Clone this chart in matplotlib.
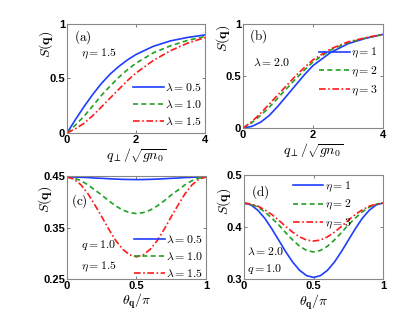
#!/usr/bin/env python3
"""Static structure factor S(q): four panels (a)-(d)."""

import matplotlib
matplotlib.use("Agg")
import matplotlib.pyplot as plt

plt.rcParams["mathtext.fontset"] = "cm"

# panels (a), (b): S(q) against q_perp / sqrt(g n0)
q_perp = [0, 0.25, 0.5, 0.75, 1.0, 1.25, 1.5, 1.75, 2.0, 2.5, 3.0, 3.5, 4.0]

a_labels = [r"$\lambda=0.5$", r"$\lambda=1.0$", r"$\lambda=1.5$"]
a_lam05 = [0, 0.125, 0.245, 0.355, 0.455, 0.54, 0.61, 0.67, 0.72, 0.795, 0.845, 0.877, 0.90]
a_lam10 = [0, 0.075, 0.155, 0.25, 0.345, 0.43, 0.51, 0.58, 0.64, 0.735, 0.80, 0.85, 0.885]
a_lam15 = [0, 0.04, 0.09, 0.16, 0.24, 0.32, 0.40, 0.48, 0.55, 0.665, 0.755, 0.825, 0.875]

b_labels = [r"$\eta=1$", r"$\eta=2$", r"$\eta=3$"]
b_eta1 = [0, 0.015, 0.055, 0.12, 0.21, 0.31, 0.41, 0.51, 0.60, 0.725, 0.81, 0.862, 0.90]
b_eta2 = [0, 0.05, 0.12, 0.20, 0.29, 0.38, 0.47, 0.555, 0.635, 0.75, 0.82, 0.865, 0.90]
b_eta3 = [0, 0.06, 0.14, 0.23, 0.32, 0.41, 0.50, 0.58, 0.655, 0.76, 0.828, 0.868, 0.90]

# panels (c), (d): S(q) against theta_q / pi
theta = [0, 0.05, 0.1, 0.15, 0.2, 0.25, 0.3, 0.35, 0.4, 0.45, 0.5,
         0.55, 0.6, 0.65, 0.7, 0.75, 0.8, 0.85, 0.9, 0.95, 1.0]

c_labels = a_labels
c_lam05 = [0.448, 0.448, 0.4475, 0.447, 0.446, 0.4455, 0.4447, 0.444, 0.4435, 0.4432, 0.443,
           0.4432, 0.4435, 0.444, 0.4447, 0.4455, 0.446, 0.447, 0.4475, 0.448, 0.448]
c_lam10 = [0.448, 0.446, 0.441, 0.433, 0.423, 0.413, 0.402, 0.392, 0.384, 0.379, 0.377,
           0.379, 0.384, 0.392, 0.402, 0.413, 0.423, 0.433, 0.441, 0.446, 0.448]
c_lam15 = [0.448, 0.444, 0.433, 0.416, 0.394, 0.371, 0.347, 0.325, 0.308, 0.297, 0.293,
           0.297, 0.308, 0.325, 0.347, 0.371, 0.394, 0.416, 0.433, 0.444, 0.448]

d_labels = b_labels
d_eta1 = [0.446, 0.4425, 0.432, 0.4165, 0.3965, 0.3745, 0.3524, 0.3325, 0.3167, 0.3065, 0.303,
          0.3065, 0.3167, 0.3325, 0.3524, 0.3745, 0.3965, 0.4165, 0.432, 0.4425, 0.446]
d_eta2 = [0.446, 0.444, 0.438, 0.429, 0.417, 0.404, 0.389, 0.375, 0.363, 0.355, 0.352,
          0.355, 0.363, 0.375, 0.389, 0.404, 0.417, 0.429, 0.438, 0.444, 0.446]
d_eta3 = [0.446, 0.444, 0.440, 0.433, 0.424, 0.413, 0.401, 0.390, 0.381, 0.375, 0.373,
          0.375, 0.381, 0.390, 0.401, 0.413, 0.424, 0.433, 0.440, 0.444, 0.446]

colors = ["#1f3dff", "#22a022", "#ff1a1a"]
styles = ["-", (0, (3, 2)), (0, (4, 1.5, 1, 1.5))]
tick_font = dict(family="Liberation Sans", weight="bold", size=8)


def style_axes(ax, xlim, ylim, xticks, yticks, xticklabels, yticklabels):
    ax.set_xlim(*xlim)
    ax.set_ylim(*ylim)
    ax.set_xticks(xticks)
    ax.set_yticks(yticks)
    ax.set_xticklabels(xticklabels, **tick_font)
    ax.set_yticklabels(yticklabels, **tick_font)
    ax.tick_params(direction="in", top=True, right=True, length=2.5, width=0.6,
                   color="#666666", pad=1.5)
    for sp in ax.spines.values():
        sp.set_color("#888888")
        sp.set_linewidth(0.8)


def draw(ax, x, series, labels, lw=1.2):
    for ys, lab, c, ls in zip(series, labels, colors, styles):
        ax.plot(x, ys, color=c, linestyle=ls, linewidth=lw, label=lab)


fig = plt.figure(figsize=(4.15, 3.2), dpi=100)
ax_a = fig.add_axes([0.1614, 0.5844, 0.3325, 0.3406])
ax_b = fig.add_axes([0.5855, 0.600, 0.3373, 0.325])
ax_c = fig.add_axes([0.1614, 0.1281, 0.335, 0.3219])
ax_d = fig.add_axes([0.588, 0.1281, 0.335, 0.325])

leg_kw = dict(frameon=False, fontsize=8.5, handlelength=2.6, handletextpad=0.1,
              labelspacing=0.35, borderaxespad=0.2)
lbl = 10

# (a)
draw(ax_a, q_perp, [a_lam05, a_lam10, a_lam15], a_labels)
style_axes(ax_a, (0, 4), (0, 1), [0, 2, 4], [0, 0.5, 1], ["0", "2", "4"], ["0", "0.5", "1"])
ax_a.legend(loc="lower right", bbox_to_anchor=(1.03, -0.02), **leg_kw)
ax_a.text(0.05, 0.85, r"$\mathrm{(a)}$", transform=ax_a.transAxes, fontsize=9.5)
ax_a.text(0.1, 0.7, r"$\eta=1.5$", transform=ax_a.transAxes, fontsize=8.5)
ax_a.set_xlabel(r"$q_{\perp}/\sqrt{gn_0}$", fontsize=lbl, labelpad=1.5)
ax_a.set_ylabel(r"$S(\mathbf{q})$", fontsize=lbl)
ax_a.yaxis.set_label_coords(-0.09, 0.81)

# (b)
draw(ax_b, q_perp, [b_eta1, b_eta2, b_eta3], b_labels)
style_axes(ax_b, (0, 4), (0, 1), [0, 2, 4], [0, 0.5, 1], ["0", "2", "4"], ["0", "0.5", "1"])
ax_b.legend(loc="lower right", bbox_to_anchor=(1.01, 0.22), **leg_kw)
ax_b.text(0.04, 0.85, r"$\mathrm{(b)}$", transform=ax_b.transAxes, fontsize=9.5)
ax_b.text(0.07, 0.6, r"$\lambda=2.0$", transform=ax_b.transAxes, fontsize=8.5)
ax_b.set_xlabel(r"$q_{\perp}/\sqrt{gn_0}$", fontsize=lbl, labelpad=1.5)
ax_b.set_ylabel(r"$S(\mathbf{q})$", fontsize=lbl)
ax_b.yaxis.set_label_coords(-0.08, 0.86)

# (c)
draw(ax_c, theta, [c_lam05, c_lam10, c_lam15], c_labels)
style_axes(ax_c, (0, 1), (0.25, 0.45), [0, 0.5, 1], [0.25, 0.35, 0.45],
           ["0", "0.5", "1"], ["0.25", "0.35", "0.45"])
ax_c.legend(loc="lower right", bbox_to_anchor=(1.03, -0.08), **leg_kw)
ax_c.text(0.03, 0.72, r"$\mathrm{(c)}$", transform=ax_c.transAxes, fontsize=9.5)
ax_c.text(0.1, 0.3, r"$q=1.0$", transform=ax_c.transAxes, fontsize=8.5)
ax_c.text(0.1, 0.09, r"$\eta=1.5$", transform=ax_c.transAxes, fontsize=8.5)
ax_c.set_xlabel(r"$\theta_{\mathbf{q}}/\pi$", fontsize=lbl, labelpad=0.5)
ax_c.set_ylabel(r"$S(\mathbf{q})$", fontsize=lbl)
ax_c.yaxis.set_label_coords(-0.09, 0.77)

# (d)
draw(ax_d, theta, [d_eta1, d_eta2, d_eta3], d_labels)
style_axes(ax_d, (0, 1), (0.3, 0.5), [0, 0.5, 1], [0.3, 0.4, 0.5],
           ["0", "0.5", "1"], ["0.3", "0.4", "0.5"])
ax_d.legend(loc="upper center", bbox_to_anchor=(0.56, 1.03), **leg_kw)
ax_d.text(0.05, 0.8, r"$\mathrm{(d)}$", transform=ax_d.transAxes, fontsize=9.5)
ax_d.text(0.02, 0.23, r"$\lambda=2.0$", transform=ax_d.transAxes, fontsize=8.5)
ax_d.text(0.02, 0.07, r"$q=1.0$", transform=ax_d.transAxes, fontsize=8.5)
ax_d.set_xlabel(r"$\theta_{\mathbf{q}}/\pi$", fontsize=lbl, labelpad=1.5)
ax_d.set_ylabel(r"$S(\mathbf{q})$", fontsize=lbl)
ax_d.yaxis.set_label_coords(-0.08, 0.75)

fig.savefig("out.png", dpi=100)
plt.close(fig)
